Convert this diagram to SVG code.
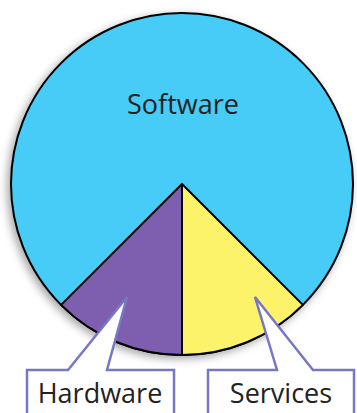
<svg xmlns="http://www.w3.org/2000/svg" width="357" height="413" viewBox="0 0 357 413">
<defs>
<filter id="sh" x="-20%" y="-20%" width="140%" height="140%">
<feDropShadow dx="-3" dy="3" stdDeviation="4" flood-color="#000" flood-opacity="0.35"/>
</filter>
</defs>
<style>
.slice{stroke:#000;stroke-width:2;stroke-linejoin:round}
.callout{fill:#fff;stroke:#7777c4;stroke-width:2.5;stroke-linejoin:miter}
.lbl{font-family:"Open Sans","Noto Sans",sans-serif;font-size:27px;fill:#222;text-anchor:middle}
</style>
<rect width="357" height="413" fill="#fff"/>
<g id="pie">
<g id="software">
<circle cx="182" cy="184" r="171" fill="#47cbf7" stroke="#000" stroke-width="2" filter="url(#sh)"/>
<text class="lbl" x="183" y="114" fill="#111">Software</text>
</g>
<g id="hardware">
<path class="slice" d="M182,184 L61.1,304.9 A171,171 0 0 0 182,355 Z" fill="#7e5faf"/>
</g>
<g id="services">
<path class="slice" d="M182,184 L182,355 A171,171 0 0 0 302.9,304.9 Z" fill="#fdf36b"/>
</g>
</g>
<g id="connectors">
<g id="hardware-label">
<path class="callout" d="M27,420 L27,370 L68,370 L127,297 L107,370 L174,370 L174,420"/>
<text class="lbl" x="100" y="403">Hardware</text>
</g>
<g id="services-label">
<path class="callout" d="M208,420 L208,370 L277,370 L255,297 L313,370 L354,370 L354,420"/>
<text class="lbl" x="281" y="403">Services</text>
</g>
</g>
</svg>
